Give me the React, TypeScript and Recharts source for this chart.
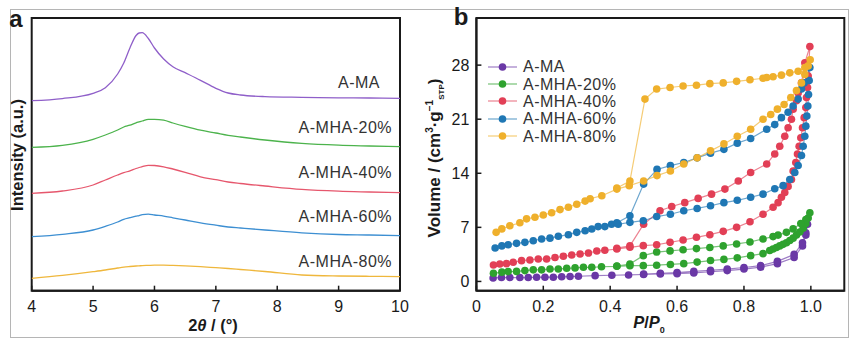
import { LineChart, Line, XAxis, YAxis, ReferenceArea } from 'recharts';

// ---- panel a: XRD (2θ in degrees, intensity in arbitrary stacked units) ----
const theta = [4, 4.5, 5, 5.2, 5.4, 5.5, 5.6, 5.7, 5.75, 5.8, 5.9, 6.0, 6.15, 6.3, 6.5, 6.75, 7.0, 7.2, 7.4, 7.8, 8.4, 9, 9.5, 10];
const xrdMA = [190, 192.1, 197.4, 203, 216.7, 227.7, 242.7, 255.2, 257.7, 258, 252.2, 242.7, 231.7, 224, 218, 210.4, 202.4, 197.7, 195.7, 194.1, 193.4, 192.9, 192.7, 192.4];
const xrd20 = [143.4, 145.4, 151.4, 155.7, 160.7, 163.7, 165.5, 167.9, 168.8, 169.7, 171.4, 171.4, 170.5, 167.7, 164.3, 160.5, 157.7, 155.4, 153.7, 150.7, 147.3, 145.5, 144.7, 144.0];
const xrd40 = [97.4, 99.7, 105.7, 110.7, 115.7, 118, 119.9, 122.2, 123.2, 124, 125.4, 125.2, 123.9, 121.7, 118.4, 113.9, 111, 108.7, 107.2, 104.7, 101.3, 99.5, 98.7, 98];
const xrd60 = [54, 56.4, 60.7, 64.4, 68.7, 71.4, 73, 74.5, 75.1, 76, 76.6, 75.7, 74.6, 72.9, 70.7, 67.9, 65.5, 63.7, 62.7, 60.7, 57.9, 56.2, 55.7, 55];
const xrd80 = [12.4, 15.3, 19, 20.7, 22.7, 23.6, 24.2, 24.7, 24.9, 25.1, 25.3, 25.5, 25.6, 25.3, 24.8, 24, 23, 22.2, 21.2, 19.2, 15.7, 14.7, 14.4, 14];
const thetaTicks = [4, 5, 6, 7, 8, 9, 10];

// ---- panel b: N2 isotherms (adsorption branch then desorption branch) ----
const maP = [0.05, 0.075, 0.1, 0.13, 0.155, 0.18, 0.205, 0.23, 0.255, 0.28, 0.305, 0.355, 0.405, 0.455, 0.5, 0.55, 0.6, 0.65, 0.7, 0.75, 0.8, 0.85, 0.9, 0.95, 0.975, 0.985, 0.99,
  0.985, 0.975, 0.95, 0.9, 0.85, 0.8, 0.75, 0.7, 0.65, 0.6, 0.55, 0.5];
const maV = [0.45, 0.5, 0.5, 0.5, 0.5, 0.55, 0.55, 0.55, 0.6, 0.63, 0.67, 0.75, 0.8, 0.84, 0.9, 0.97, 1.0, 1.1, 1.25, 1.4, 1.6, 1.85, 2.3, 3.1, 4.6, 6.0, 7.4,
  6.3, 5.0, 3.5, 2.6, 2.05, 1.8, 1.6, 1.45, 1.3, 1.15, 1.05, 0.95];

const m20P = [0.051, 0.076, 0.095, 0.12, 0.145, 0.17, 0.195, 0.22, 0.245, 0.27, 0.295, 0.32, 0.345, 0.374, 0.42, 0.459, 0.499, 0.539, 0.58, 0.62, 0.66, 0.7, 0.74, 0.78, 0.82, 0.857, 0.877, 0.887, 0.897, 0.907, 0.917, 0.927, 0.937, 0.947, 0.957, 0.967, 0.977, 0.985, 0.992, 0.997,
  0.985, 0.97, 0.947, 0.927, 0.902, 0.887, 0.857, 0.818, 0.778, 0.738, 0.698, 0.658, 0.618, 0.579, 0.539, 0.499, 0.459, 0.42];
const m20V = [1.06, 1.2, 1.27, 1.3, 1.4, 1.5, 1.5, 1.6, 1.6, 1.7, 1.75, 1.83, 1.83, 1.9, 1.96, 2.04, 2.04, 2.1, 2.2, 2.3, 2.5, 2.7, 2.85, 3.05, 3.34, 3.6, 4.0, 4.2, 4.4, 4.6, 4.8, 5.0, 5.3, 5.6, 6.0, 6.4, 6.9, 7.5, 8.2, 8.9,
  8.0, 7.5, 6.8, 6.35, 6.0, 5.8, 5.5, 5.1, 4.85, 4.6, 4.4, 4.25, 4.1, 3.95, 3.8, 3.34, 2.26, 2.0];

const m40P = [0.051, 0.07, 0.09, 0.11, 0.135, 0.16, 0.185, 0.21, 0.235, 0.26, 0.285, 0.31, 0.335, 0.36, 0.384, 0.42, 0.459, 0.499, 0.539, 0.579, 0.618, 0.658, 0.698, 0.738, 0.778, 0.818, 0.857, 0.887, 0.902, 0.912, 0.922, 0.932, 0.942, 0.947, 0.955, 0.96, 0.965, 0.97, 0.975, 0.98, 0.985, 0.987, 0.99, 0.992, 0.997,
  0.982, 0.972, 0.962, 0.957, 0.947, 0.942, 0.932, 0.922, 0.907, 0.892, 0.868, 0.82, 0.783, 0.743, 0.703, 0.663, 0.623, 0.584, 0.549, 0.5, 0.459, 0.42];
const m40V = [2.13, 2.26, 2.3, 2.48, 2.69, 2.78, 2.9, 2.9, 3.1, 3.25, 3.42, 3.55, 3.68, 3.94, 4.03, 4.2, 4.42, 4.63, 4.75, 5.06, 5.36, 5.71, 6.05, 6.48, 7.0, 7.73, 8.7, 9.6, 10.2, 10.9, 11.5, 12.3, 13.2, 14.3, 15.4, 16.5, 17.5, 18.6, 19.9, 21.2, 22.5, 23.8, 25.1, 26.6, 30.4,
  28.3, 25.7, 24.4, 23.4, 22.3, 21.0, 19.9, 18.8, 17.5, 16.5, 15.2, 14.1, 13.0, 11.95, 11.3, 10.75, 10.2, 9.7, 9.15, 7.4, 4.6, 4.3];

const m60P = [0.056, 0.076, 0.095, 0.12, 0.145, 0.17, 0.195, 0.22, 0.245, 0.275, 0.3, 0.325, 0.345, 0.364, 0.384, 0.404, 0.424, 0.459, 0.499, 0.539, 0.58, 0.62, 0.66, 0.7, 0.74, 0.78, 0.82, 0.857, 0.892, 0.917, 0.937, 0.952, 0.962, 0.972, 0.977, 0.982, 0.985, 0.988, 0.991, 0.993, 0.995, 0.997,
  0.98, 0.972, 0.962, 0.947, 0.932, 0.912, 0.892, 0.868, 0.82, 0.78, 0.74, 0.7, 0.66, 0.62, 0.58, 0.54, 0.5, 0.459, 0.42];
const m60V = [4.33, 4.6, 4.75, 4.93, 5.06, 5.27, 5.5, 5.6, 5.84, 6.05, 6.35, 6.57, 6.78, 7.1, 7.1, 7.4, 7.4, 7.65, 7.86, 8.4, 8.7, 9.15, 9.45, 9.8, 10.2, 10.5, 10.9, 11.3, 12.0, 12.4, 13.2, 14.1, 15.0, 16.3, 17.5, 18.8, 20.1, 21.4, 22.7, 24.2, 26.0, 27.7,
  25.7, 24.9, 23.6, 22.7, 21.9, 21.2, 20.3, 19.7, 18.5, 17.9, 17.1, 16.6, 16.0, 15.4, 15.0, 14.5, 12.6, 8.5, 7.6];

const m80P = [0.059, 0.076, 0.1, 0.13, 0.15, 0.175, 0.2, 0.225, 0.25, 0.275, 0.3, 0.325, 0.34, 0.375, 0.42, 0.457, 0.5, 0.54, 0.58, 0.62, 0.66, 0.7, 0.74, 0.78, 0.82, 0.857, 0.88, 0.9, 0.92, 0.94, 0.957, 0.972, 0.982, 0.992, 0.998,
  0.982, 0.962, 0.937, 0.912, 0.887, 0.868, 0.857, 0.818, 0.778, 0.738, 0.698, 0.658, 0.618, 0.579, 0.539, 0.504, 0.459, 0.42];
const m80V = [6.35, 6.8, 7.2, 7.6, 8.1, 8.3, 8.6, 8.9, 9.3, 9.6, 10.0, 10.4, 10.7, 11.1, 11.95, 12.4, 13.0, 13.7, 14.3, 15.2, 16.0, 16.9, 17.8, 18.8, 19.7, 21.0, 21.6, 22.3, 22.9, 23.8, 24.7, 25.7, 26.8, 27.9, 28.7,
  27.7, 27.2, 27.0, 26.7, 26.5, 26.4, 26.3, 26.1, 25.9, 25.7, 25.6, 25.4, 25.3, 25.1, 24.9, 23.6, 13.0, 12.1];

const pTicks = [0, 0.2, 0.4, 0.6, 0.8, 1.0];
const vTicks = [0, 7, 14, 21, 28];

const names = ['A-MA', 'A-MHA-20%', 'A-MHA-40%', 'A-MHA-60%', 'A-MHA-80%'];
const xrdColors = ['#8f5fc9', '#4cb34c', '#e6576d', '#3d8fd2', '#efb73c'];
const isoColors = ['#6a38a6', '#2ea22e', '#e23f56', '#1f77b4', '#efb02c'];

const FONT = "'Liberation Sans', Arial, Helvetica, sans-serif";
const INK = '#1a1a1a';

const xrdSeries = [xrdMA, xrd20, xrd40, xrd60, xrd80];
const xrdData = theta.map((t, i) => {
  const row: Record<string, number> = { t };
  xrdSeries.forEach((s, k) => { row['s' + k] = s[i]; });
  return row;
});

const isoSeries = [[maP, maV], [m20P, m20V], [m40P, m40V], [m60P, m60V], [m80P, m80V]].map(
  ([p, v]) => p.map((x, i) => ({ p: x, v: v[i] }))
);

// label centres (px) for the stacked XRD traces
const xrdLabelY = [83, 128, 173, 217, 262];
const xrdLabelRight = [380, 392, 392, 392, 392];

const tickStyle = { fontSize: 16, fill: INK };

export default function App() {
  return (
    <div style={{ position: 'fixed', left: 0, top: 0, width: 867, height: 345, background: '#fff', fontFamily: FONT, color: INK }}>
      <div style={{ position: 'absolute', left: 10, top: 9, width: 839, height: 329, border: '1.5px solid #b5b5b5', boxSizing: 'border-box' }} />

      {/* panel a */}
      <div style={{ position: 'absolute', left: 0, top: 0 }}>
        <LineChart width={420} height={345} data={xrdData} margin={{ top: 18, right: 20, bottom: 24.3, left: 31.7 }}>
          <XAxis dataKey="t" type="number" domain={[4, 10]} ticks={thetaTicks} allowDataOverflow
            height={30} tickSize={-5} tickMargin={15} tick={tickStyle}
            axisLine={{ stroke: INK, strokeWidth: 2 }} tickLine={{ stroke: INK, strokeWidth: 1.5 }} />
          <YAxis type="number" domain={[0, 272.7]} allowDataOverflow hide />
          {xrdSeries.map((_, k) => (
            <Line key={k} dataKey={'s' + k} type="monotone" stroke={xrdColors[k]} strokeWidth={1.3}
              dot={false} activeDot={false} isAnimationActive={false} />
          ))}
          <ReferenceArea x1={4} x2={10} y1={0} y2={272.7} fill="none" fillOpacity={0} stroke={INK} strokeWidth={2} />
        </LineChart>
      </div>

      {names.map((n, k) => (
        <div key={n} style={{ position: 'absolute', right: 867 - xrdLabelRight[k], top: xrdLabelY[k] - 9, fontSize: 16, lineHeight: '18px', letterSpacing: 0.5, color: '#333', whiteSpace: 'nowrap' }}>{n}</div>
      ))}

      <div style={{ position: 'absolute', left: 16.5, top: 155, transform: 'translate(-50%, -50%) rotate(-90deg)', fontSize: 16.5, fontWeight: 'bold', whiteSpace: 'nowrap' }}>
        Intensity (a.u.)
      </div>
      <div style={{ position: 'absolute', left: 213, top: 325, transform: 'translate(-50%, -50%)', fontSize: 16.5, fontWeight: 'bold', whiteSpace: 'nowrap' }}>
        2<i>θ</i> / (°)
      </div>
      <div style={{ position: 'absolute', left: 16, top: 19, transform: 'translate(-50%, -50%)', fontSize: 24, fontWeight: 'bold' }}>a</div>

      {/* panel b */}
      <div style={{ position: 'absolute', left: 420, top: 0 }}>
        <LineChart width={447} height={345} margin={{ top: 18, right: 22.7, bottom: 24.3, left: 16.4 }}>
          <XAxis dataKey="p" type="number" domain={[0, 1.1]} ticks={pTicks} allowDataOverflow
            height={30} tickSize={-5} tickMargin={15} tick={tickStyle}
            tickFormatter={(v: number) => (v === 0 ? '0' : v.toFixed(1))}
            axisLine={{ stroke: INK, strokeWidth: 2 }} tickLine={{ stroke: INK, strokeWidth: 1.5 }} />
          <YAxis dataKey="v" type="number" domain={[-1.2, 34.1]} ticks={vTicks} allowDataOverflow
            width={40} tickSize={-5} tickMargin={12} tick={tickStyle}
            axisLine={{ stroke: INK, strokeWidth: 2 }} tickLine={{ stroke: INK, strokeWidth: 1.5 }} />
          {isoSeries.map((d, k) => (
            <Line key={k} data={d} dataKey="v" type="linear" stroke={isoColors[k]} strokeOpacity={0.65} strokeWidth={1.2}
              dot={{ r: 3.8, fill: isoColors[k], stroke: isoColors[k], strokeWidth: 0 }} activeDot={false} isAnimationActive={false} />
          ))}
          <ReferenceArea x1={0} x2={1.1} y1={-1.2} y2={34.1} fill="none" fillOpacity={0} stroke={INK} strokeWidth={2} />
        </LineChart>
      </div>

      {/* legend b */}
      <div style={{ position: 'absolute', left: 487, top: 58 }}>
        {names.map((n, k) => (
          <div key={n} style={{ display: 'flex', alignItems: 'center', height: 17.4 }}>
            <svg width={32} height={12} style={{ flex: 'none' }}>
              <line x1={1} x2={30} y1={6} y2={6} stroke={isoColors[k]} strokeOpacity={0.65} strokeWidth={1.2} />
              <circle cx={15.5} cy={6} r={3.8} fill={isoColors[k]} />
            </svg>
            <span style={{ marginLeft: 4, fontSize: 16, letterSpacing: 0.5, color: '#333', whiteSpace: 'nowrap', lineHeight: '17px' }}>{n}</span>
          </div>
        ))}
      </div>

      <div style={{ position: 'absolute', left: 435, top: 158, transform: 'translate(-50%, -50%) rotate(-90deg)', fontSize: 17, fontWeight: 'bold', whiteSpace: 'nowrap' }}>
        Volume / (cm<sup style={{ fontSize: 10 }}>3</sup>·g<sup style={{ fontSize: 10 }}>−1</sup><sub style={{ fontSize: 8 }}>STP</sub>)
      </div>
      <div style={{ position: 'absolute', left: 649, top: 324, transform: 'translate(-50%, -50%)', fontSize: 16.5, fontWeight: 'bold', whiteSpace: 'nowrap' }}>
        <i>P</i>/<i>P</i><sub style={{ fontSize: 9, fontStyle: 'normal' }}>0</sub>
      </div>
      <div style={{ position: 'absolute', left: 461, top: 17, transform: 'translate(-50%, -50%)', fontSize: 24, fontWeight: 'bold' }}>b</div>
    </div>
  );
}
